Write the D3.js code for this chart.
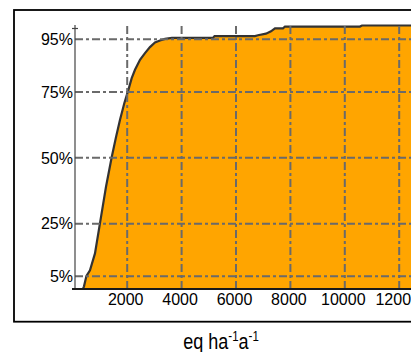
<!DOCTYPE html>
<html>
<head>
<meta charset="utf-8">
<script src="https://cdn.jsdelivr.net/npm/d3@7"></script>
<style>
  body { margin: 0; background: #fff; overflow: hidden; }
  svg { display: block; }
  text { font-family: "Liberation Sans", Arial, sans-serif; fill: #000; }
</style>
</head>
<body>
<svg id="chart" width="411" height="352"></svg>
<script>
// cumulative share of sites vs. deposition (eq ha-1 a-1)
var deposition = [100, 393, 430, 520, 650, 834, 1018, 1239, 1448, 1610, 1754, 1912, 2059, 2184, 2305,
    2489, 2672, 2856, 3040, 3224, 3408, 3665, 5170, 5230, 6530, 6716, 6826, 7120, 7305, 7452,
    7746, 7820, 10576, 10650, 13000];
var cumPercent = [0, 0, 1, 5, 7.1, 13.5, 25, 38.8, 50, 57.8, 64.2, 70.5, 75.5, 80, 83.2,
    87, 89.5, 91.8, 93.6, 94.3, 94.9, 95.3, 95.3, 96.0, 96.0, 96.0, 96.3, 96.9, 97.8, 98.9,
    98.9, 99.6, 99.6, 100, 100];
var xTicks = [2000, 4000, 6000, 8000, 10000, 12000];
var yTicks = [5, 25, 50, 75, 95];

var svg = d3.select("#chart");

var x = d3.scaleLinear().domain([0, 13000]).range([72.3, 425.9]);
var y = d3.scaleLinear().domain([0, 100]).range([289, 25.5]);

var pts = deposition.map(function(d, i) { return [d, cumPercent[i]]; });

// outer frame
svg.append("rect")
    .attr("x", 14).attr("y", 10)
    .attr("width", 500).attr("height", 311.7)
    .style("fill", "none")
    .style("stroke", "#000")
    .style("stroke-width", 1.8);

// area under the curve
svg.append("path")
    .datum(pts)
    .attr("d", d3.area()
        .x(function(d) { return x(d[0]); })
        .y0(y(0))
        .y1(function(d) { return y(d[1]); }))
    .style("fill", "#ffa500");

svg.append("path")
    .datum(pts)
    .attr("d", d3.line()
        .x(function(d) { return x(d[0]); })
        .y(function(d) { return y(d[1]); }))
    .style("fill", "none")
    .style("stroke", "#333")
    .style("stroke-width", 2.2);

// grid lines
var vgrid = svg.append("g")
    .attr("transform", "translate(0,289)")
    .call(d3.axisBottom(x).tickValues(xTicks).tickSize(-264).tickFormat(""));
vgrid.select(".domain").remove();
vgrid.selectAll("line")
    .style("stroke", "#6a6a6a")
    .style("stroke-width", 2)
    .style("stroke-dasharray", "8,3,3,3");

var hgrid = svg.append("g")
    .attr("transform", "translate(75,0)")
    .call(d3.axisLeft(y).tickValues(yTicks).tickSize(-360).tickFormat(""));
hgrid.select(".domain").remove();
hgrid.selectAll("line")
    .style("stroke", "#6a6a6a")
    .style("stroke-width", 2)
    .style("stroke-dasharray", "8,3,3,3");

// y axis line + top tick
svg.append("line")
    .attr("x1", 75).attr("x2", 75)
    .attr("y1", 25).attr("y2", 289)
    .style("stroke", "#444")
    .style("stroke-width", 1.2);
svg.append("line")
    .attr("x1", 72).attr("x2", 78)
    .attr("y1", 28.5).attr("y2", 28.5)
    .style("stroke", "#444")
    .style("stroke-width", 1.2);

// x axis line
svg.append("line")
    .attr("x1", 72).attr("x2", 430)
    .attr("y1", 289).attr("y2", 289)
    .style("stroke", "#1a1a1a")
    .style("stroke-width", 2);

// tick labels
var xAxis = svg.append("g")
    .attr("transform", "translate(0,289)")
    .call(d3.axisBottom(x).tickValues(xTicks).tickSize(0).tickPadding(0).tickFormat(d3.format("d")));
xAxis.select(".domain").remove();
xAxis.selectAll("text")
    .attr("y", 15.5)
    .attr("dy", 0)
    .attr("dx", -1.5)
    .style("font-size", "16px")
    .style("font-family", "'Liberation Sans', Arial, sans-serif")
    .style("fill", "#000");

var yAxis = svg.append("g")
    .attr("transform", "translate(75,0)")
    .call(d3.axisLeft(y).tickValues(yTicks).tickSize(0).tickPadding(2)
        .tickFormat(function(d) { return d + "%"; }));
yAxis.select(".domain").remove();
yAxis.selectAll("text")
    .attr("dy", "0.36em")
    .style("font-size", "16px")
    .style("font-family", "'Liberation Sans', Arial, sans-serif")
    .style("fill", "#000");

// axis title with superscripts
var title = svg.append("text")
    .attr("transform", "translate(221,349) scale(0.82,1)")
    .attr("text-anchor", "middle")
    .style("font-size", "22px");
title.append("tspan").text("eq ha");
title.append("tspan").attr("dy", -8).style("font-size", "14px").text("-1");
title.append("tspan").attr("dy", 8).text("a");
title.append("tspan").attr("dy", -8).style("font-size", "14px").text("-1");
</script>
</body>
</html>
